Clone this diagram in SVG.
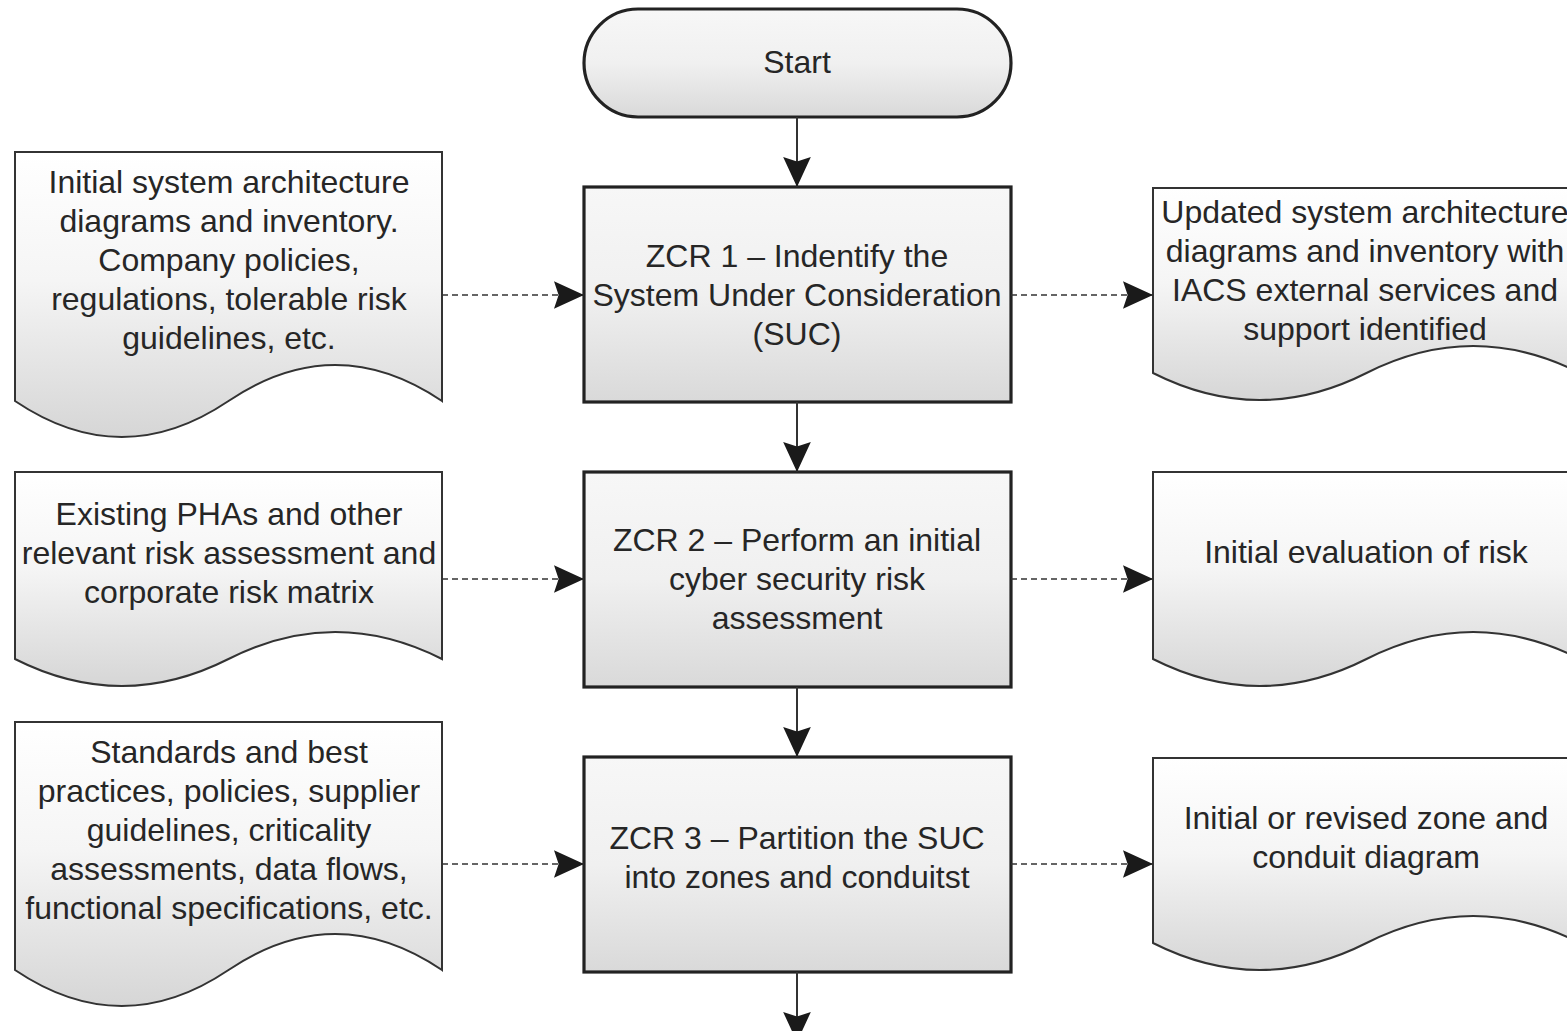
<svg xmlns="http://www.w3.org/2000/svg" width="1567" height="1031" viewBox="0 0 1567 1031">
<style>
text{font-family:"Liberation Sans",Arial,sans-serif;font-size:32px;fill:#262626;text-anchor:middle}
.box{fill:url(#gb);stroke:#222;stroke-width:3.2}
.doc{fill:url(#gd);stroke:#333;stroke-width:2}
.solid{stroke:#333;stroke-width:2;fill:none}
.dash{stroke:#333;stroke-width:1.6;fill:none;stroke-dasharray:6 4}
</style>
<defs>
<linearGradient id="gb" x1="0" y1="0" x2="0" y2="1"><stop offset="0" stop-color="#f7f7f7"/><stop offset="0.5" stop-color="#f0f0f0"/><stop offset="1" stop-color="#d9d9d9"/></linearGradient>
<linearGradient id="gd" x1="0" y1="0" x2="0" y2="1"><stop offset="0" stop-color="#ffffff"/><stop offset="0.45" stop-color="#f5f5f5"/><stop offset="1" stop-color="#d6d6d6"/></linearGradient>
<marker id="ah" markerUnits="userSpaceOnUse" markerWidth="30" markerHeight="30" viewBox="0 0 26 24" refX="26" refY="12" orient="auto"><path d="M0,0 L26,12 L0,24 L4,12 Z" fill="#1a1a1a"/></marker>
</defs>
<g id="start"><rect x="584" y="9" width="427" height="108" rx="54" class="box"/><text x="797" y="73">Start</text></g>
<g id="zcr1"><rect x="584" y="187" width="427" height="215" class="box"/><text x="797" y="267">ZCR 1 – Indentify the</text><text x="797" y="306">System Under Consideration</text><text x="797" y="345">(SUC)</text></g>
<g id="zcr2"><rect x="584" y="472" width="427" height="215" class="box"/><text x="797" y="551">ZCR 2 – Perform an initial</text><text x="797" y="590">cyber security risk</text><text x="797" y="629">assessment</text></g>
<g id="zcr3"><rect x="584" y="757" width="427" height="215" class="box"/><text x="797" y="849">ZCR 3 – Partition the SUC</text><text x="797" y="888">into zones and conduitst</text></g>
<g id="in1"><path class="doc" d="M15,152 H442 V401 C370.8,353 299.7,353 228.5,401 C157.3,449 86.2,449 15,401 Z"/><text x="229" y="193">Initial system architecture</text><text x="229" y="232">diagrams and inventory.</text><text x="229" y="271">Company policies,</text><text x="229" y="310">regulations, tolerable risk</text><text x="229" y="349">guidelines, etc.</text></g>
<g id="in2"><path class="doc" d="M15,472 H442 V659 C370.8,623 299.7,623 228.5,659 C157.3,695 86.2,695 15,659 Z"/><text x="229" y="525">Existing PHAs and other</text><text x="229" y="564">relevant risk assessment and</text><text x="229" y="603">corporate risk matrix</text></g>
<g id="in3"><path class="doc" d="M15,722 H442 V970 C370.8,922 299.7,922 228.5,970 C157.3,1018 86.2,1018 15,970 Z"/><text x="229" y="763">Standards and best</text><text x="229" y="802">practices, policies, supplier</text><text x="229" y="841">guidelines, criticality</text><text x="229" y="880">assessments, data flows,</text><text x="229" y="919">functional specifications, etc.</text></g>
<g id="out1"><path class="doc" d="M1153,188 H1580 V373 C1508.8,337 1437.7,337 1366.5,373 C1295.3,409 1224.2,409 1153,373 Z"/><text x="1365" y="223">Updated system architecture</text><text x="1365" y="262">diagrams and inventory with</text><text x="1365" y="301">IACS external services and</text><text x="1365" y="340">support identified</text></g>
<g id="out2"><path class="doc" d="M1153,472 H1580 V659 C1508.8,623 1437.7,623 1366.5,659 C1295.3,695 1224.2,695 1153,659 Z"/><text x="1366" y="563">Initial evaluation of risk</text></g>
<g id="out3"><path class="doc" d="M1153,758 H1580 V943 C1508.8,907 1437.7,907 1366.5,943 C1295.3,979 1224.2,979 1153,943 Z"/><text x="1366" y="829">Initial or revised zone and</text><text x="1366" y="868">conduit diagram</text></g>
<g id="connectors">
<line class="solid" x1="797" y1="117" x2="797" y2="187" marker-end="url(#ah)"/>
<line class="solid" x1="797" y1="402" x2="797" y2="472" marker-end="url(#ah)"/>
<line class="solid" x1="797" y1="687" x2="797" y2="757" marker-end="url(#ah)"/>
<line class="solid" x1="797" y1="972" x2="797" y2="1042" marker-end="url(#ah)"/>
<line class="dash" x1="442" y1="295" x2="584" y2="295" marker-end="url(#ah)"/>
<line class="dash" x1="1011" y1="295" x2="1153" y2="295" marker-end="url(#ah)"/>
<line class="dash" x1="442" y1="579" x2="584" y2="579" marker-end="url(#ah)"/>
<line class="dash" x1="1011" y1="579" x2="1153" y2="579" marker-end="url(#ah)"/>
<line class="dash" x1="442" y1="864" x2="584" y2="864" marker-end="url(#ah)"/>
<line class="dash" x1="1011" y1="864" x2="1153" y2="864" marker-end="url(#ah)"/>
</g>
</svg>
